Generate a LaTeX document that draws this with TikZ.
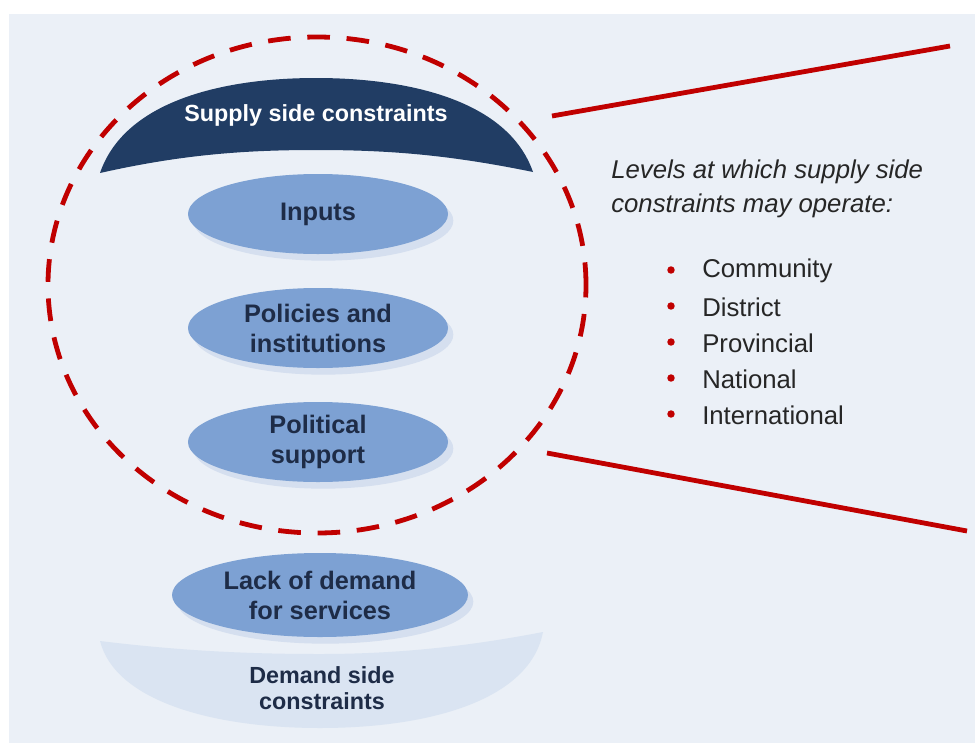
\documentclass[tikz,border=0pt]{standalone}
\usepackage{fontspec}
\setmainfont{Liberation Sans}
\usetikzlibrary{shapes.geometric,shadows}

\definecolor{panelbg}{HTML}{EBF0F7}
\definecolor{navy}{HTML}{213D64}
\definecolor{blobblue}{HTML}{7DA1D3}
\definecolor{shadeblue}{HTML}{D5DFEF}
\definecolor{demandblue}{HTML}{DAE4F2}
\definecolor{levelred}{HTML}{C00000}
\definecolor{labeltext}{HTML}{1E2C47}

\tikzset{cnode/.style = {shape = ellipse,
                        fill = blobblue,
                        minimum width = 195pt,
                        minimum height = 60pt,
                        inner sep = 0pt,
                        align = center,
                        text = labeltext,
                        font = \fontsize{19}{22.5}\selectfont\bfseries,
                        drop shadow = {shadow xshift = 4pt,
                                       shadow yshift = -5pt,
                                       fill = shadeblue,
                                       opacity = 1}},
         sidelabel/.style = {align = center,
                        inner sep = 0pt,
                        font = \fontsize{17.5}{20}\selectfont\bfseries},
         lvltext/.style = {anchor = west,
                        inner sep = 0pt,
                        text = black!85,
                        font = \fontsize{19.3}{25}\selectfont},
         redline/.style = {draw = levelred,
                        line width = 3.6pt}}

\begin{document}
\begin{tikzpicture}[x = 0.75pt, y = -0.75pt]
		\useasboundingbox (0,0) rectangle (975,743);
		\fill[white] (0,0) rectangle (975,743);
		\fill[panelbg] (9,14) rectangle (975,743);
		% caps above and below the ring
		\fill[navy] (100,173) .. controls (125,100) and (225,78) .. (316,78)
			.. controls (408,78) and (508,100) .. (533,172)
			.. controls (450,155) and (390,150) .. (316,150)
			.. controls (242,150) and (180,155) .. (100,173) -- cycle;
		\fill[demandblue] (100,641) .. controls (190,652) and (260,654) .. (320,654)
			.. controls (400,654) and (470,646) .. (543,632)
			.. controls (530,700) and (430,728) .. (320,728)
			.. controls (210,728) and (115,700) .. (100,641) -- cycle;
		\node[sidelabel, text = white] (supply) at (316,115) {Supply side constraints};
		\node[sidelabel, text = labeltext] (demand) at (322,688) {Demand side\\constraints};
		\node[cnode] (inputs) at (318,214) {Inputs};
		\node[cnode] (policies) at (318,328) {Policies and\\institutions};
		\node[cnode] (political) at (318,442) {Political\\support};
		\node[cnode, minimum width = 222pt, minimum height = 63pt] (lack) at (320,595) {Lack of demand\\for services};
		\draw[levelred, line width = 3.6pt, dash pattern = on 17pt off 12.5pt]
			(317,285) ellipse [x radius = 201.75pt, y radius = 186pt];
		% pointer lines to the list of levels
		\coordinate (ringtop) at (552,116);
		\coordinate (toptip) at (950,46);
		\coordinate (ringbot) at (547,453);
		\coordinate (bottip) at (967,531);
		\path[redline] (ringtop) edge (toptip);
		\path[redline] (ringbot) edge (bottip);
		\node[lvltext, font = \fontsize{19.3}{25}\selectfont\itshape, align = left] (levels) at (611,189)
			{Levels at which supply side\\constraints may operate:};
		\foreach \lvl [count = \i] in {Community, District, Provincial, National, International} {
			\fill[levelred] (671,{270 + (\i - 1)*36}) circle (2.8pt);
			\node[lvltext] (lvl\i) at (702,{271 + (\i - 1)*36}) {\lvl};
		}
	\end{tikzpicture}
\end{document}
